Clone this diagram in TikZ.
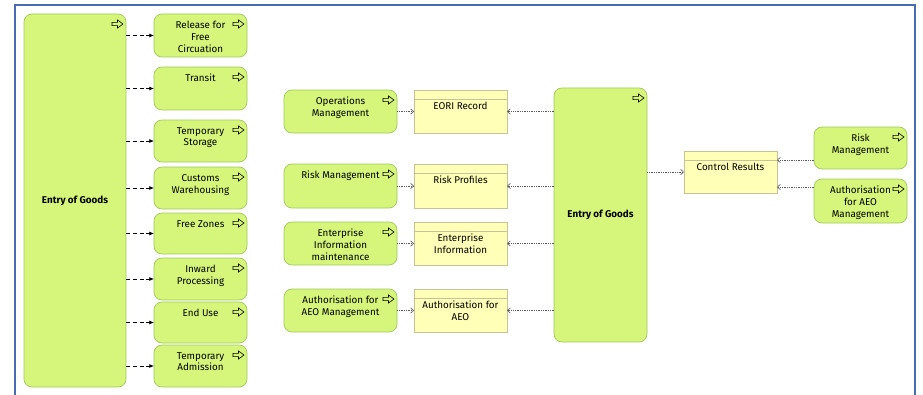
\documentclass[tikz,border=0pt]{standalone}
\usepackage{fontspec}
\setmainfont{Fira Sans}
\usetikzlibrary{positioning,arrows.meta}

\definecolor{fnGreen}{RGB}{213,246,122}
\definecolor{fnEdge}{RGB}{160,200,95}
\definecolor{objYellow}{RGB}{255,255,183}
\definecolor{objEdge}{RGB}{196,196,150}
\definecolor{frameBlue}{RGB}{72,108,178}

\tikzset{
	pics/procarrow/.style={code={
		\draw[line width=0.5pt, line join=miter] (-11,-1.6) -- (-5.5,-1.6) -- (-5.5,-4) -- (0,0)
			-- (-5.5,4) -- (-5.5,1.6) -- (-11,1.6) -- cycle;
	}}
}

\begin{document}
\begin{tikzpicture}[x=0.03cm, y=-0.03cm, font=\fontsize{8.4}{10.2}\selectfont,
	box/.style 2 args={anchor=north west, inner sep=0pt, outer sep=0pt,
		minimum width=#1*0.03cm, minimum height=#2*0.03cm},
	fn/.style={draw=fnEdge, fill=fnGreen, rounded corners=0.24cm, line width=0.6pt},
	bigfn/.style={fn, font=\fontsize{8.4}{10.2}\selectfont\bfseries},
	fnlbl/.style={label={[anchor=north, inner sep=0pt, align=center, yshift=-7*0.03cm]north:#1}},
	obj/.style={draw=objEdge, fill=objYellow, line width=0.6pt},
	objlbl/.style={label={[anchor=north, inner sep=0pt, align=center, yshift=-12*0.03cm]north:#1}},
	trig/.style={-{Latex[length=4pt,width=3.5pt]}, dash pattern=on 3.4pt off 2.4pt, line width=0.7pt},
	access/.style={-{Straight Barb[length=2.5pt,width=4.5pt]}, densely dotted, draw=black!65, line width=0.5pt}]
	\useasboundingbox (0,0) rectangle (923,395);
	\draw[frameBlue, line width=1.4pt] (15,395) -- (15,5) -- (915,5) -- (915,395);

	% left block: entry of goods and its procedures
	\node[box={102}{373}, bigfn] (eogL) at (24,14) {Entry of Goods};
	\node[box={93}{43}, fn, fnlbl={Release for\\Free\\Circuation}] (rel) at (154,14) {};
	\node[box={93}{43}, fn, fnlbl={Transit}] (transit) at (154,67) {};
	\node[box={93}{42}, fn, fnlbl={Temporary\\Storage}] (tstor) at (154,120) {};
	\node[box={93}{42}, fn, fnlbl={Customs\\Warehousing}] (cwh) at (154,167) {};
	\node[box={93}{41}, fn, fnlbl={Free Zones}] (fzone) at (154,213) {};
	\node[box={93}{42}, fn, fnlbl={Inward\\Processing}] (inward) at (154,258) {};
	\node[box={93}{41}, fn, fnlbl={End Use}] (enduse) at (154,302) {};
	\node[box={93}{42}, fn, fnlbl={Temporary\\Admission}] (tadm) at (154,345) {};

	% middle block: support functions and data
	\node[box={113}{43}, fn, fnlbl={Operations\\Management}] (opsm) at (284,90) {};
	\node[box={113}{44}, fn, fnlbl={Risk Management}] (riskm) at (284,164) {};
	\node[box={113}{43}, fn, fnlbl={Enterprise\\Information\\maintenance}] (entim) at (284,222) {};
	\node[box={113}{43}, fn, fnlbl={Authorisation for\\AEO Management}] (aeom) at (284,289) {};
	\node[box={93}{43}, obj, objlbl={EORI Record}, right=0.51cm of opsm] (eori) {};
	\node[box={93}{44}, obj, objlbl={Risk Profiles}, right=0.51cm of riskm] (riskp) {};
	\node[box={93}{43}, obj, objlbl={Enterprise\\Information}, right=0.51cm of entim] (entinf) {};
	\node[box={93}{43}, obj, objlbl={Authorisation for\\AEO}, right=0.51cm of aeom] (aeoinf) {};
	\node[box={93}{254}, bigfn] (eogM) at (554,88) {Entry of Goods};

	% right block: control results
	\node[box={93}{42}, obj, objlbl={Control Results}] (ctrl) at (684,151) {};
	\node[box={93}{42}, fn, fnlbl={Risk\\Management}] (riskr) at (814,127) {};
	\node[box={93}{44}, fn, fnlbl={Authorisation\\for AEO\\Management}] (aeor) at (814,179) {};

	\foreach \n in {eogL,rel,transit,tstor,cwh,fzone,inward,enduse,tadm,opsm,riskm,entim,aeom,eogM,riskr,aeor}
		\pic at ([shift={(-3,10)}]\n.north east) {procarrow};
	\foreach \o in {eori,riskp,entinf,aeoinf,ctrl}
		\draw[objEdge, line width=0.6pt] ([yshift=-9*0.03cm]\o.north west) -- ([yshift=-9*0.03cm]\o.north east);

	% connectors
	\foreach \b in {rel,transit,tstor,cwh,fzone,inward,enduse,tadm}
		\draw[trig] (eogL.east |- \b.west) -- (\b.west);
	\foreach \a/\o in {opsm/eori,riskm/riskp,entim/entinf,aeom/aeoinf}{
		\draw[access] (\a.east |- \o.west) -- (\o.west);
		\draw[access] (eogM.west |- \o.east) -- (\o.east);
	}
	\draw[access] (eogM.east |- ctrl.west) -- (ctrl.west);
	\coordinate (ctrlA) at ([yshift=12*0.03cm]ctrl.east);
	\coordinate (ctrlB) at ([yshift=-15*0.03cm]ctrl.east);
	\draw[access] (riskr.west |- ctrlA) -- (ctrlA);
	\draw[access] (aeor.west |- ctrlB) -- (ctrlB);
\end{tikzpicture}
\end{document}
